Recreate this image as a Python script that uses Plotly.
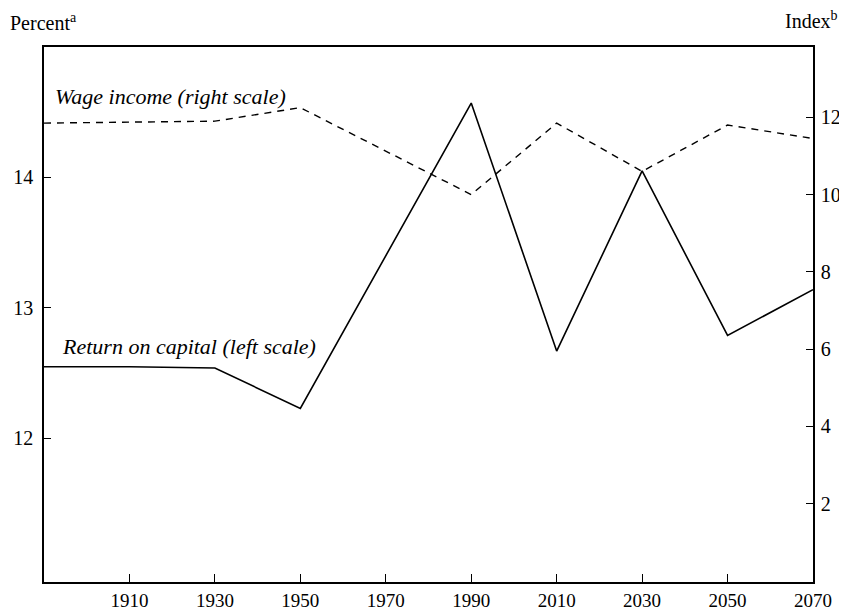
import plotly.graph_objects as go

# Data
years = [1890, 1910, 1930, 1950, 1990, 2010, 2030, 2050, 2070]
return_on_capital = [12.55, 12.55, 12.54, 12.23, 14.57, 12.67, 14.05, 12.79, 13.14]  # percent, left scale
wage_income = [11.85, 11.87, 11.9, 12.25, 10.0, 11.85, 10.6, 11.8, 11.45]  # index, right scale

x_ticks = [1910, 1930, 1950, 1970, 1990, 2010, 2030, 2050, 2070]
left_ticks = [12, 13, 14]
right_ticks = [2, 4, 6, 8, 10, 12]

FONT = "Liberation Serif, Times New Roman, serif"

fig = go.Figure()
fig.add_trace(go.Scatter(
    x=years, y=return_on_capital, mode="lines",
    line=dict(color="black", width=1.6), yaxis="y", showlegend=False,
))
fig.add_trace(go.Scatter(
    x=years, y=wage_income, mode="lines",
    line=dict(color="black", width=1.4, dash="7px,6px"), yaxis="y2", showlegend=False,
))

fig.update_layout(
    width=839, height=605,
    margin=dict(l=36, r=34, t=39, b=31, autoexpand=False),
    paper_bgcolor="white", plot_bgcolor="white",
    font=dict(family=FONT, size=19, color="black"),
    xaxis=dict(
        range=[1890, 2070], tickvals=x_ticks, ticktext=[str(t) for t in x_ticks],
        showgrid=False, zeroline=False, showline=True, linecolor="black", linewidth=1.5,
        mirror=True, ticks="inside", ticklen=8, tickcolor="black", tickwidth=1,
        tickfont=dict(family=FONT, size=19), automargin=False,
    ),
    yaxis=dict(
        range=[10.9, 15.0], tickvals=left_ticks,
        showgrid=False, zeroline=False, showline=True, linecolor="black", linewidth=1.5,
        ticks="inside", ticklen=7, tickcolor="black", tickwidth=1,
        tickfont=dict(family=FONT, size=20), automargin=False, ticklabelstandoff=5,
    ),
    yaxis2=dict(
        range=[-0.03, 13.82], tickvals=right_ticks, overlaying="y", side="right",
        showgrid=False, zeroline=False, showline=True, linecolor="black", linewidth=1.5,
        ticks="inside", ticklen=7, tickcolor="black", tickwidth=1,
        tickfont=dict(family=FONT, size=20), automargin=False, ticklabelstandoff=2,
    ),
    annotations=[
        dict(text="Percent<sup>a</sup>", xref="paper", yref="paper", x=-0.047, y=1.047,
             xanchor="left", yanchor="middle", showarrow=False,
             font=dict(family=FONT, size=20)),
        dict(text="Index<sup>b</sup>", xref="paper", yref="paper", x=1.035, y=1.05,
             xanchor="right", yanchor="middle", showarrow=False,
             font=dict(family=FONT, size=20)),
        dict(text="<i>Wage income (right scale)</i>", xref="paper", yref="paper",
             x=0.012, y=0.908, xanchor="left", yanchor="middle", showarrow=False,
             font=dict(family=FONT, size=22)),
        dict(text="<i>Return on capital (left scale)</i>", xref="paper", yref="paper",
             x=0.021, y=0.44, xanchor="left", yanchor="middle", showarrow=False,
             font=dict(family=FONT, size=22)),
    ],
)

fig.write_html("out.html")
